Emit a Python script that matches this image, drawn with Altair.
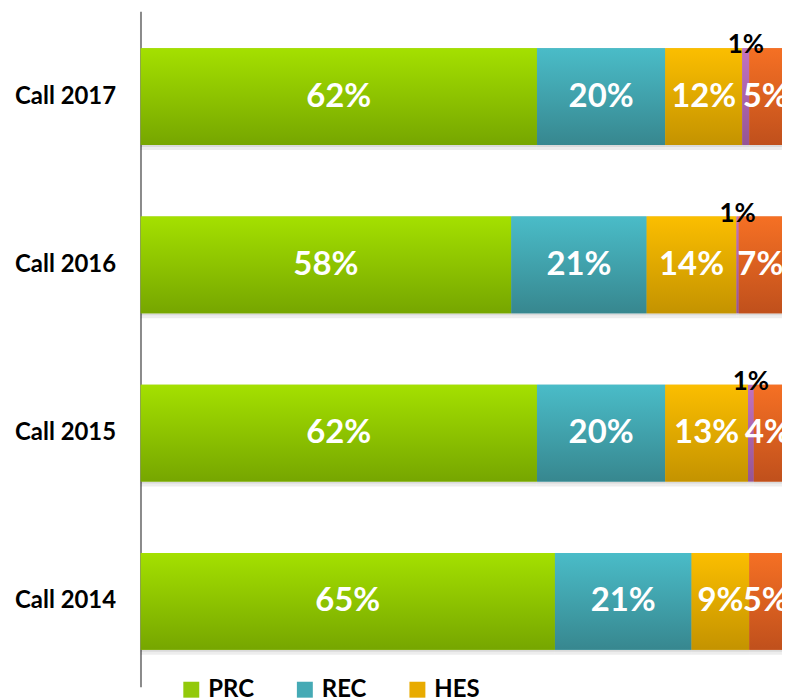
import altair as alt
import pandas as pd

calls = ["Call 2017", "Call 2016", "Call 2015", "Call 2014"]
series = ["PRC", "REC", "HES", "PUB", "OTH"]

# shares (%)
prc = [61.8, 57.8, 61.8, 64.6]
rec = [20.0, 21.1, 20.0, 21.3]
hes = [12.0, 14.0, 12.9, 9.0]
pub = [1.1, 0.35, 0.9, 0.0]
oth = [5.1, 6.75, 4.4, 5.1]

# printed labels
prc_lbl = ["62%", "58%", "62%", "65%"]
rec_lbl = ["20%", "21%", "20%", "21%"]
hes_lbl = ["12%", "14%", "13%", "9%"]
pub_lbl = ["1%", "1%", "1%", ""]
oth_lbl = ["5%", "7%", "4%", "5%"]

solid = ["#93c90a", "#45aab5", "#e8ab00", "#b06ab0", "#e06020"]
grad_top = ["#a4e000", "#4abcc8", "#fbbe00", "#c173c1", "#f57024"]
grad_bot = ["#76a600", "#37878f", "#c49300", "#955595", "#c0501c"]

vals = [prc, rec, hes, pub, oth]
lbls = [prc_lbl, rec_lbl, hes_lbl, pub_lbl, oth_lbl]
rows = []
for si, s in enumerate(series):
    for ci, c in enumerate(calls):
        rows.append({"call": c, "series": s, "order": si,
                     "value": vals[si][ci], "label": lbls[si][ci]})
df = pd.DataFrame(rows)


def grad(i):
    return {"gradient": "linear", "x1": 0, "y1": 0, "x2": 0, "y2": 1,
            "stops": [{"offset": 0, "color": grad_top[i]},
                      {"offset": 1, "color": grad_bot[i]}]}


base = alt.Chart(df).transform_stack(
    stack="value", groupby=["call"], as_=["x0", "x1"],
    sort=[alt.SortField("order", order="ascending")]
).transform_calculate(mid="(datum.x0 + datum.x1) / 2")

yenc = alt.Y("call:N", sort=calls, title=None,
             scale=alt.Scale(paddingInner=0.426, paddingOuter=0.22),
             axis=alt.Axis(labelFont="Lato", labelFontSize=24, labelFontWeight="bold",
                           labelColor="#000000", ticks=False, domainColor="#8a8a8a",
                           domainWidth=2, labelPadding=25, grid=False,
                           minExtent=133, maxExtent=133))
xscale = alt.Scale(domain=[0, 100], nice=False, zero=True)

shadow1 = base.mark_bar(color="#000000", opacity=0.07, yOffset=5, clip=True).encode(
    x=alt.X("x0:Q", scale=xscale, axis=None), x2="x1:Q", y=yenc)
shadow2 = base.mark_bar(color="#000000", opacity=0.08, yOffset=2, clip=True).encode(
    x=alt.X("x0:Q", scale=xscale, axis=None), x2="x1:Q", y=yenc)

legend_layer = base.mark_bar(clip=True).encode(
    x=alt.X("x0:Q", scale=xscale, axis=None), x2="x1:Q", y=yenc,
    color=alt.Color("series:N", scale=alt.Scale(domain=series, range=solid),
                    legend=alt.Legend(values=["PRC", "REC", "HES"], orient="none",
                                      legendX=39, legendY=669, direction="horizontal",
                                      title=None, symbolType="square", symbolSize=256,
                                      symbolStrokeWidth=0, symbolOpacity=1,
                                      labelFont="Lato", labelFontSize=24,
                                      labelFontWeight="bold", labelColor="#000000",
                                      labelOffset=5, columnPadding=39, padding=0)))

conds = [{"test": f"datum.series === '{s}'", "value": grad(i)} for i, s in enumerate(series[:-1])]
gradient_layer = base.mark_bar(clip=True, strokeWidth=0).encode(
    x=alt.X("x0:Q", scale=xscale, axis=None), x2="x1:Q", y=yenc,
    fill=alt.FillValue(value=grad(len(series) - 1), condition=conds))

white_text = base.transform_filter(
    "datum.series !== 'PUB' && datum.label !== ''"
).mark_text(font="Lato", fontSize=33, fontWeight="bold", color="#ffffff", clip=True).encode(
    x=alt.X("mid:Q", scale=xscale, axis=None), y=yenc, text="label:N")

black_text = base.transform_filter(
    "datum.series === 'PUB' && datum.label !== ''"
).mark_text(font="Lato", fontSize=26, fontWeight="bold", color="#000000",
            baseline="alphabetic", dy=5).encode(
    x=alt.X("mid:Q", scale=xscale, axis=None),
    y=alt.Y("call:N", sort=calls, bandPosition=0, title=None), text="label:N")

chart = alt.layer(shadow1, shadow2, legend_layer, gradient_layer, white_text, black_text).properties(
    width=644, height=678,
    padding={"left": 0, "top": 2, "right": 0, "bottom": 0},
    background="#ffffff"
).configure_view(stroke=None)

chart.save("out.html", embed_options={"renderer": "svg", "actions": False})
